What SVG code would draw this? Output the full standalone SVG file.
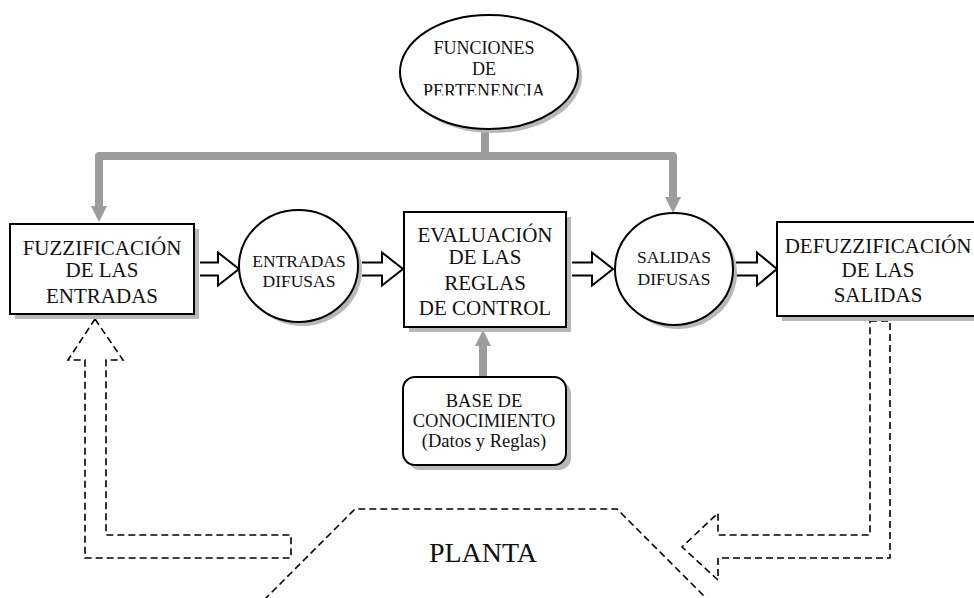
<svg xmlns="http://www.w3.org/2000/svg" width="974" height="598" viewBox="0 0 974 598">
  <style>
    .txt { font-family: "Liberation Serif", "Times New Roman", serif; fill: #111; text-anchor: middle; }
    .big { font-size: 21px; }
    .mid { font-size: 17.5px; }
    .box { fill: #fff; stroke: #000; stroke-width: 2; }
    .shadow { fill: #b8b8b8; stroke: none; }
    .hollow { fill: #fff; stroke: #000; stroke-width: 2; stroke-linejoin: miter; }
    .gray { fill: none; stroke: #9c9c9c; stroke-width: 8; stroke-linejoin: round; }
    .grayhead { fill: #9c9c9c; }
    .dash { fill: none; stroke: #000; stroke-width: 1.6; stroke-dasharray: 7 4; }
  </style>
  <defs>
    <clipPath id="clipFunc">
      <rect x="380" y="0" width="220" height="95.5"/>
    </clipPath>
  </defs>

  <rect width="974" height="598" fill="#fff"/>

  <!-- connectors -->
  <g id="connectors">
    <!-- membership functions feed both fuzzification and output sets -->
    <path class="gray" d="M485,128 V156 M99,207 V156 H673 V198"/>
    <polygon class="grayhead" points="91,206 107,206 99,222"/>
    <polygon class="grayhead" points="665,197 681,197 673,213"/>
    <!-- knowledge base into rule evaluation -->
    <path class="gray" d="M483,378 V345"/>
    <polygon class="grayhead" points="475,346 491,346 483,330"/>

    <!-- hollow block arrows along the main chain -->
    <path class="hollow" d="M200,262.5 H218 V252.5 L239,269 L218,285.5 V275.5 H200"/>
    <path class="hollow" d="M362,262.5 H382 V252.5 L403,269 L382,285.5 V275.5 H362"/>
    <path class="hollow" d="M572,262.5 H592 V252.5 L613,269 L592,285.5 V275.5 H572"/>
    <path class="hollow" d="M736,262.5 H757 V252.5 L777,269 L757,285.5 V275.5 H736"/>

    <!-- dashed feedback paths to and from the plant -->
    <polygon class="dash" points="95,319 123,360 106,360 106,535 291,535 291,558 85,558 85,360 68,360"/>
    <polygon class="dash" points="870,321 890,321 890,558 718,558 718,580 682,547 718,513 718,535 870,535"/>
  </g>

  <!-- membership functions -->
  <g id="funciones">
    <ellipse class="shadow" cx="493" cy="76" rx="89" ry="57"/>
    <ellipse class="box" cx="489" cy="72" rx="89" ry="57"/>
    <g clip-path="url(#clipFunc)">
      <text class="txt" x="484" y="54" font-size="18">FUNCIONES</text>
      <text class="txt" x="484" y="75" font-size="18">DE</text>
      <text class="txt" x="484" y="97" font-size="18">PERTENENCIA</text>
    </g>
  </g>

  <!-- fuzzification -->
  <g id="fuzzificacion">
    <rect class="shadow" x="15" y="229" width="184" height="90"/>
    <rect class="box" x="10" y="224" width="184" height="90"/>
    <text class="txt big" x="102" y="255">FUZZIFICACIÓN</text>
    <text class="txt big" x="102" y="277">DE LAS</text>
    <text class="txt big" x="102" y="303">ENTRADAS</text>
  </g>

  <!-- fuzzy inputs -->
  <g id="entradas">
    <ellipse class="shadow" cx="302.5" cy="270" rx="59.5" ry="56"/>
    <ellipse class="box" cx="298.5" cy="266" rx="59.5" ry="56"/>
    <text class="txt mid" x="299" y="267">ENTRADAS</text>
    <text class="txt mid" x="299" y="287">DIFUSAS</text>
  </g>

  <!-- rule evaluation -->
  <g id="evaluacion">
    <rect class="shadow" x="409" y="217" width="162" height="115"/>
    <rect class="box" x="404" y="212" width="162" height="115"/>
    <text class="txt big" x="485" y="242">EVALUACIÓN</text>
    <text class="txt big" x="485" y="264">DE LAS</text>
    <text class="txt big" x="485" y="290">REGLAS</text>
    <text class="txt big" x="485" y="315">DE CONTROL</text>
  </g>

  <!-- fuzzy outputs -->
  <g id="salidas">
    <ellipse class="shadow" cx="678" cy="273" rx="59" ry="56"/>
    <ellipse class="box" cx="674" cy="269" rx="59" ry="56"/>
    <text class="txt mid" x="674" y="263">SALIDAS</text>
    <text class="txt mid" x="674" y="285">DIFUSAS</text>
  </g>

  <!-- defuzzification -->
  <g id="defuzzificacion">
    <rect class="shadow" x="782" y="227" width="210" height="94"/>
    <rect class="box" x="777" y="222" width="210" height="94"/>
    <text class="txt big" x="878" y="253">DEFUZZIFICACIÓN</text>
    <text class="txt big" x="878" y="277">DE LAS</text>
    <text class="txt big" x="878" y="302">SALIDAS</text>
  </g>

  <!-- knowledge base -->
  <g id="base">
    <rect class="shadow" x="408" y="382" width="163" height="88" rx="12"/>
    <rect class="box" x="403" y="377" width="163" height="88" rx="12"/>
    <text class="txt" x="484" y="407" font-size="18.5">BASE DE</text>
    <text class="txt" x="484" y="427" font-size="18.5">CONOCIMIENTO</text>
    <text class="txt" x="484" y="447" font-size="18.5">(Datos y Reglas)</text>
  </g>

  <!-- plant -->
  <g id="planta">
    <polyline class="dash" points="264,600 355,509 617,509 708,600"/>
    <text class="txt" x="483" y="562" font-size="28">PLANTA</text>
  </g>
</svg>
